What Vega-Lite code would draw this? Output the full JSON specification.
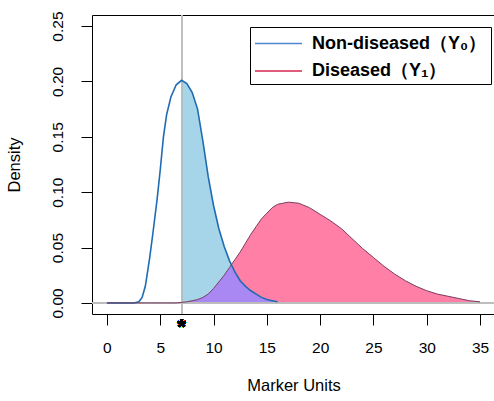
{
  "$schema": "https://vega.github.io/schema/vega-lite/v6.json",
  "width": 403,
  "height": 299,
  "autosize": {"type": "none"},
  "padding": {"left": 92, "top": 15, "right": 0, "bottom": 87},
  "background": "white",
  "datasets": {
    "dens": [
      {"x": 0, "non": 0, "dis": 0},
      {"x": 1, "non": 0, "dis": 0},
      {"x": 2, "non": 0, "dis": 0},
      {"x": 2.5, "non": 0, "dis": 0},
      {"x": 3, "non": 0.001, "dis": 0},
      {"x": 3.3, "non": 0.005, "dis": 0},
      {"x": 3.6, "non": 0.015, "dis": 0},
      {"x": 4, "non": 0.04, "dis": 0},
      {"x": 4.3, "non": 0.062, "dis": 0},
      {"x": 4.7, "non": 0.093, "dis": 0},
      {"x": 5, "non": 0.12, "dis": 0},
      {"x": 5.3, "non": 0.15, "dis": 0},
      {"x": 5.6, "non": 0.17, "dis": 0},
      {"x": 6, "non": 0.186, "dis": 0},
      {"x": 6.5, "non": 0.197, "dis": 0},
      {"x": 7, "non": 0.201, "dis": 0.0005, "both": 0.0005},
      {"x": 7.5, "non": 0.198, "dis": 0.001, "both": 0.001},
      {"x": 8, "non": 0.19, "dis": 0.002, "both": 0.002},
      {"x": 8.5, "non": 0.175, "dis": 0.003, "both": 0.003},
      {"x": 9, "non": 0.146, "dis": 0.005, "both": 0.005},
      {"x": 9.5, "non": 0.114, "dis": 0.008, "both": 0.008},
      {"x": 10, "non": 0.088, "dis": 0.013, "both": 0.013},
      {"x": 10.5, "non": 0.067, "dis": 0.019, "both": 0.019},
      {"x": 11, "non": 0.051, "dis": 0.025, "both": 0.025},
      {"x": 11.5, "non": 0.038, "dis": 0.032, "both": 0.032},
      {"x": 11.7, "non": 0.034, "dis": 0.035, "both": 0.034},
      {"x": 12, "non": 0.028, "dis": 0.039, "both": 0.028},
      {"x": 12.5, "non": 0.02, "dis": 0.046, "both": 0.02},
      {"x": 13, "non": 0.015, "dis": 0.054, "both": 0.015},
      {"x": 13.5, "non": 0.011, "dis": 0.062, "both": 0.011},
      {"x": 14, "non": 0.008, "dis": 0.069, "both": 0.008},
      {"x": 14.5, "non": 0.005, "dis": 0.076, "both": 0.005},
      {"x": 15, "non": 0.003, "dis": 0.081, "both": 0.003},
      {"x": 15.5, "non": 0.002, "dis": 0.086, "both": 0.002},
      {"x": 16, "non": 0.001, "dis": 0.089, "both": 0.001},
      {"x": 17, "dis": 0.091},
      {"x": 18, "dis": 0.09},
      {"x": 19, "dis": 0.086},
      {"x": 20, "dis": 0.08},
      {"x": 21, "dis": 0.074},
      {"x": 22, "dis": 0.067},
      {"x": 23, "dis": 0.058},
      {"x": 24, "dis": 0.049},
      {"x": 25, "dis": 0.041},
      {"x": 26, "dis": 0.033},
      {"x": 27, "dis": 0.026},
      {"x": 28, "dis": 0.02},
      {"x": 29, "dis": 0.015},
      {"x": 30, "dis": 0.011},
      {"x": 31, "dis": 0.008},
      {"x": 32, "dis": 0.006},
      {"x": 33, "dis": 0.004},
      {"x": 34, "dis": 0.002},
      {"x": 35, "dis": 0.001}
    ],
    "groups": [
      {"group": "Non-diseased（Y₀）", "x": 0, "y": 0},
      {"group": "Diseased（Y₁）", "x": 0, "y": 0}
    ]
  },
  "data": {"name": "dens"},
  "layer": [
    {
      "transform": [{"filter": "datum.x >= 7"}],
      "mark": {"type": "area", "color": "#FF7FA6", "opacity": 1},
      "encoding": {
        "x": {"field": "x", "type": "quantitative", "title": "Marker Units", "scale": {"domain": [-1.4, 36.4], "nice": false, "zero": false}},
        "y": {"field": "dis", "type": "quantitative", "title": "Density", "scale": {"domain": [-0.01, 0.26], "nice": false, "zero": false}}
      }
    },
    {
      "transform": [{"filter": "datum.x >= 7 && isValid(datum.non)"}],
      "mark": {"type": "area", "color": "#A6D5EA", "opacity": 1},
      "encoding": {
        "x": {"field": "x", "type": "quantitative", "title": "Marker Units"},
        "y": {"field": "non", "type": "quantitative", "title": "Density"}
      }
    },
    {
      "transform": [{"filter": "isValid(datum.both)"}],
      "mark": {"type": "area", "color": "#A988F4", "opacity": 1},
      "encoding": {
        "x": {"field": "x", "type": "quantitative", "title": "Marker Units"},
        "y": {"field": "both", "type": "quantitative", "title": "Density"}
      }
    },
    {
      "mark": {"type": "rule", "color": "#BDBDBD", "strokeWidth": 1.2},
      "encoding": {"y": {"datum": 0, "type": "quantitative", "title": "Density"}}
    },
    {
      "mark": {"type": "rule", "color": "#BEBEBE", "strokeWidth": 1},
      "encoding": {"x": {"datum": 7, "type": "quantitative", "title": "Marker Units"}}
    },
    {
      "transform": [{"filter": "isValid(datum.non)"}],
      "mark": {"type": "line", "color": "#1E6CB2", "strokeWidth": 1.6},
      "encoding": {
        "x": {"field": "x", "type": "quantitative", "title": "Marker Units"},
        "y": {"field": "non", "type": "quantitative", "title": "Density"}
      }
    },
    {
      "mark": {"type": "line", "color": "#7A3C60", "strokeWidth": 1},
      "encoding": {
        "x": {"field": "x", "type": "quantitative", "title": "Marker Units"},
        "y": {"field": "dis", "type": "quantitative", "title": "Density"}
      }
    },
    {
      "mark": {"type": "text", "text": "*", "fontSize": 22, "fontWeight": "bold", "color": "black", "align": "center", "baseline": "alphabetic"},
      "encoding": {
        "x": {"datum": 7, "type": "quantitative", "title": "Marker Units"},
        "y": {"datum": -0.0285, "type": "quantitative", "title": "Density"}
      }
    },
    {
      "data": {"name": "groups"},
      "mark": {"type": "line", "strokeWidth": 1.5},
      "encoding": {
        "x": {"field": "x", "type": "quantitative", "title": "Marker Units"},
        "y": {"field": "y", "type": "quantitative", "title": "Density"},
        "color": {
          "field": "group",
          "type": "nominal",
          "scale": {"domain": ["Non-diseased（Y₀）", "Diseased（Y₁）"], "range": ["#4E86D2", "#D6264F"]},
          "legend": {
            "title": null,
            "orient": "none",
            "legendX": 158,
            "legendY": 12,
            "symbolType": "M-2,0H2",
            "symbolSize": 552,
            "symbolStrokeWidth": 1.5,
            "symbolOffset": 12,
            "labelFontSize": 18,
            "labelFontWeight": "bold",
            "labelColor": "black",
            "labelOffset": 21,
            "labelLimit": 400,
            "strokeColor": "black",
            "padding": 4,
            "rowPadding": 5.5
          }
        }
      }
    }
  ],
  "config": {
    "font": "Liberation Sans",
    "view": {"stroke": "black", "strokeWidth": 1},
    "axis": {
      "grid": false,
      "domain": false,
      "tickColor": "black",
      "tickSize": 11,
      "tickWidth": 1,
      "labelColor": "black",
      "labelFontSize": 15.5,
      "titleColor": "black",
      "titleFontSize": 16.5,
      "titleFontWeight": "normal"
    },
    "axisX": {
      "values": [0, 5, 10, 15, 20, 25, 30, 35],
      "labelPadding": 15,
      "titlePadding": 22
    },
    "axisY": {
      "values": [0, 0.05, 0.1, 0.15, 0.2, 0.25],
      "format": ".2f",
      "labelAngle": -90,
      "labelAlign": "center",
      "labelBaseline": "bottom",
      "labelPadding": 16,
      "titlePadding": 28
    }
  }
}
